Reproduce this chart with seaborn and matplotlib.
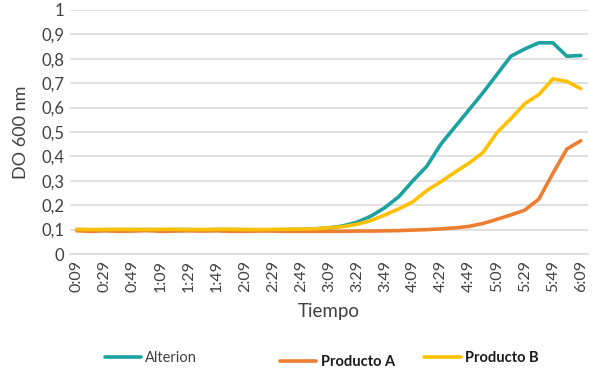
import matplotlib
matplotlib.use("Agg")
import matplotlib.pyplot as plt
from matplotlib.lines import Line2D
import seaborn as sns
import pandas as pd
import numpy as np

times = ["0:09","0:19","0:29","0:39","0:49","0:59","1:09","1:19","1:29","1:39",
         "1:49","1:59","2:09","2:19","2:29","2:39","2:49","2:59","3:09","3:19",
         "3:29","3:39","3:49","3:59","4:09","4:19","4:29","4:39","4:49","4:59",
         "5:09","5:19","5:29","5:39","5:49","5:59","6:09"]

alterion = [0.100,0.099,0.100,0.099,0.100,0.100,0.099,0.100,0.100,0.099,
            0.100,0.100,0.100,0.099,0.099,0.100,0.101,0.103,0.107,0.115,
            0.130,0.155,0.190,0.235,0.300,0.360,0.450,0.520,0.590,0.660,
            0.735,0.810,0.840,0.865,0.865,0.810,0.813]
producto_a = [0.095,0.093,0.095,0.093,0.094,0.096,0.093,0.094,0.095,0.094,
              0.095,0.093,0.093,0.094,0.094,0.093,0.093,0.093,0.093,0.093,
              0.094,0.094,0.095,0.096,0.098,0.100,0.103,0.107,0.113,0.125,
              0.142,0.160,0.180,0.225,0.330,0.430,0.464]
producto_b = [0.101,0.100,0.100,0.101,0.100,0.100,0.101,0.101,0.100,0.100,
              0.101,0.101,0.100,0.100,0.101,0.101,0.102,0.103,0.107,0.112,
              0.122,0.137,0.160,0.185,0.214,0.260,0.296,0.335,0.372,0.415,
              0.497,0.554,0.616,0.653,0.717,0.707,0.677]

series_names = ["Alterion", "Producto A", "Producto B"]
colors = ["#1BA1A0", "#ED7D31", "#FFC000"]
ytick_vals = [0, 0.1, 0.2, 0.3, 0.4, 0.5, 0.6, 0.7, 0.8, 0.9, 1]
ytick_labels = ["0", "0,1", "0,2", "0,3", "0,4", "0,5", "0,6", "0,7", "0,8", "0,9", "1"]

sns.set_theme(style="white")
plt.rcParams['font.family'] = ['Lato', 'DejaVu Sans']

df = pd.DataFrame({
    "idx": list(range(len(times))) * 3,
    "val": alterion + producto_a + producto_b,
    "serie": [series_names[0]] * len(times) + [series_names[1]] * len(times) + [series_names[2]] * len(times),
})

fig = plt.figure(figsize=(5.98, 3.78), dpi=100)
ax = fig.add_axes([0.117, 0.328, 0.866, 0.646])

sns.lineplot(data=df, x="idx", y="val", hue="serie", hue_order=series_names,
             palette=colors, linewidth=2.6, ax=ax, legend=False, sort=False)

n = len(times)
ax.set_xlim(-0.5, n - 0.5)
ax.set_ylim(0, 1)
ax.set_yticks(ytick_vals)
ax.set_yticklabels(ytick_labels, fontsize=12, color="#404040")
ax.set_xticks(range(0, n, 2))
ax.set_xticklabels(times[::2], rotation=90, fontsize=11.5, color="#404040")
ax.tick_params(axis="both", length=0, pad=4)
ax.yaxis.grid(True, color="#D9D9D9", linewidth=1.1)
ax.xaxis.grid(False)
for s in ["top", "right", "left"]:
    ax.spines[s].set_visible(False)
ax.spines["bottom"].set_color("#D9D9D9")
ax.spines["bottom"].set_linewidth(1.1)
ax.set_axisbelow(True)

ax.set_ylabel("DO 600 nm", fontsize=13, color="#404040", labelpad=9)
ax.set_xlabel("Tiempo", fontsize=13.5, color="#404040", labelpad=8)

# legend entries placed individually
legend_pos = [(0.165, 0.052), (0.458, 0.042), (0.70, 0.052)]
weights = ["normal", "bold", "bold"]
for name, col, pos, w in zip(series_names, colors, legend_pos, weights):
    h = Line2D([], [], color=col, linewidth=2.6)
    leg = fig.legend([h], [name], loc="center left", bbox_to_anchor=pos,
                     frameon=False, handlelength=2.5, handletextpad=0.3,
                     fontsize=10.5, borderaxespad=0)
    for t in leg.get_texts():
        t.set_fontweight(w)
        t.set_color("#1a1a1a" if w == "bold" else "#404040")

fig.savefig("out.png", dpi=100)
